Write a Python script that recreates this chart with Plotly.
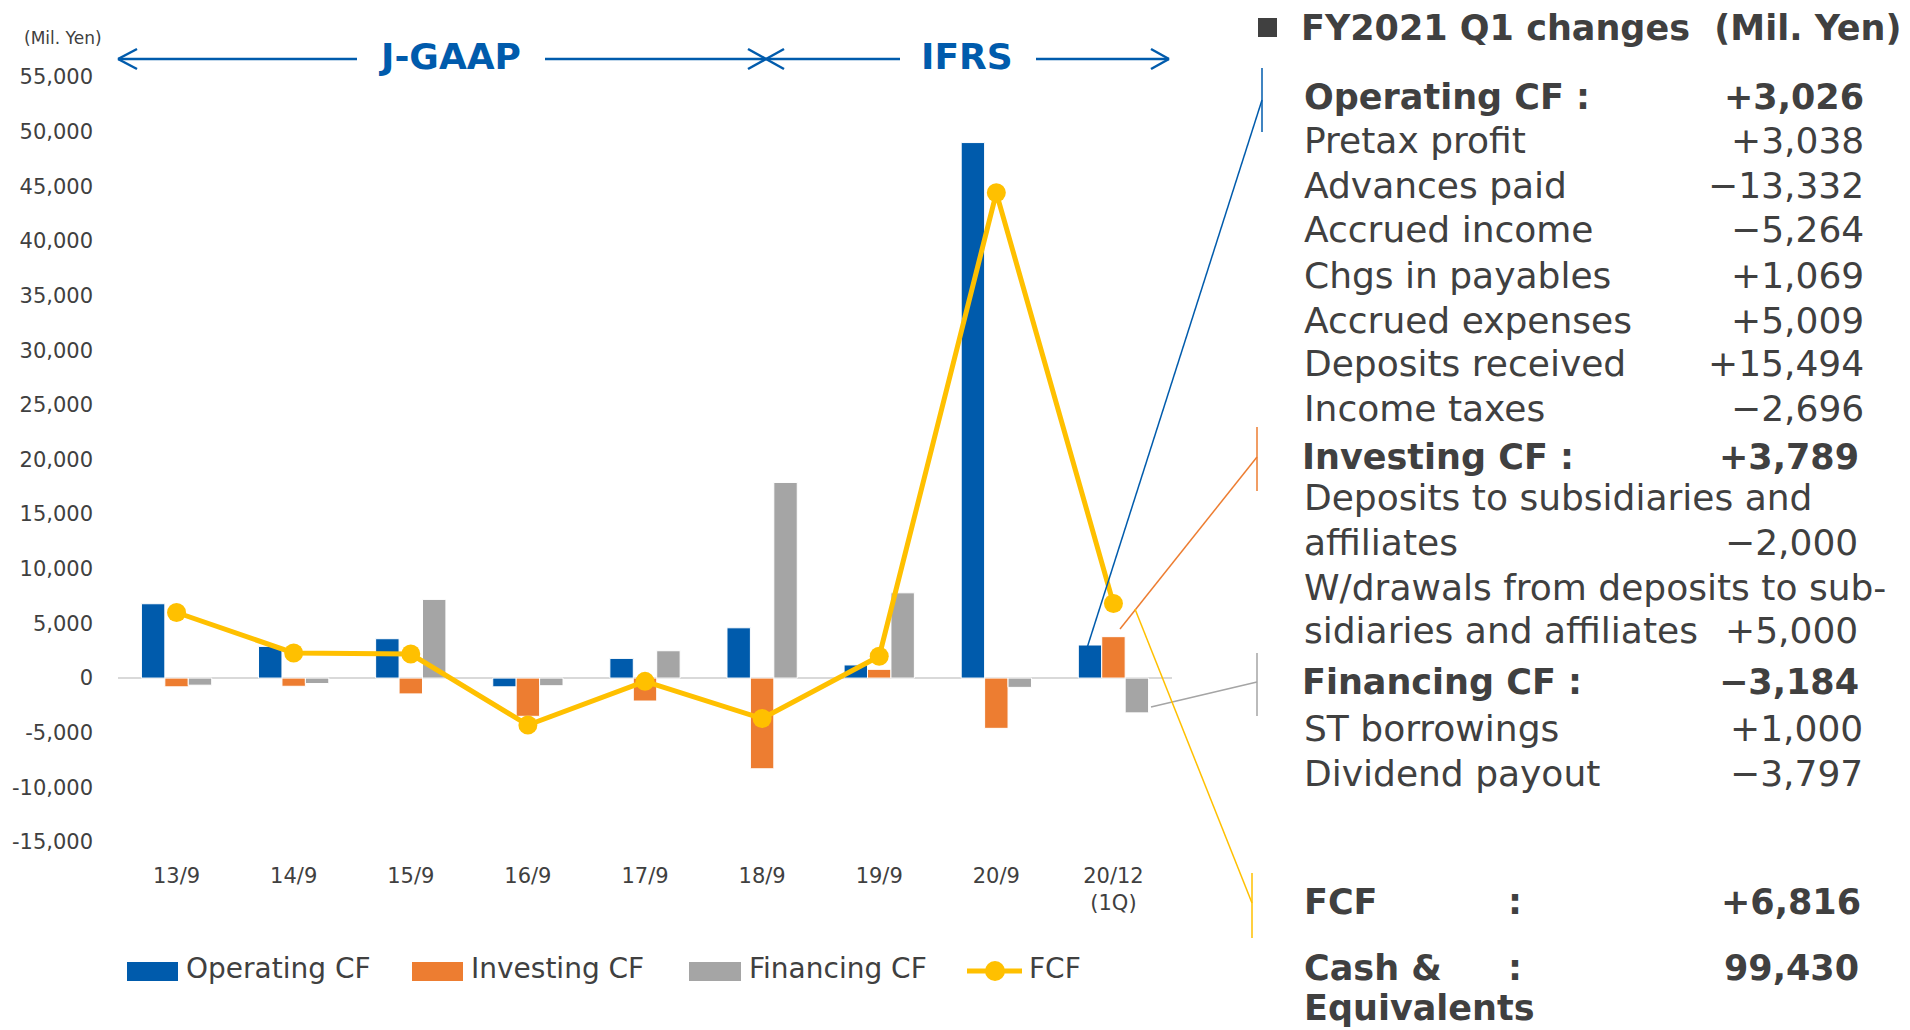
import plotly.graph_objects as go

# ---------------- data ----------------
categories = ["13/9", "14/9", "15/9", "16/9", "17/9", "18/9", "19/9", "20/9", "20/12<br>(1Q)"]
operating = [6800, 2900, 3600, -800, 1800, 4600, 1200, 49000, 3026]
investing = [-800, -750, -1450, -3500, -2100, -8300, 800, -4600, 3789]
financing = [-650, -500, 7200, -700, 2500, 17900, 7800, -850, -3184]
fcf = [6000, 2300, 2200, -4300, -300, -3700, 2000, 44400, 6816]

y_tickvals = [-15000, -10000, -5000, 0, 5000, 10000, 15000, 20000, 25000, 30000, 35000, 40000, 45000, 50000, 55000]
y_ticktext = ["-15,000", "-10,000", "-5,000", "0", "5,000", "10,000", "15,000", "20,000", "25,000",
              "30,000", "35,000", "40,000", "45,000", "50,000", "55,000"]

series_names = ["Operating CF", "Investing CF", "Financing CF", "FCF"]

panel_title = "FY2021 Q1 changes  (Mil. Yen)"
op_items = ["Pretax profit", "Advances paid", "Accrued income", "Chgs in payables",
            "Accrued expenses", "Deposits received", "Income taxes"]
op_values = ["+3,038", "−13,332", "−5,264", "+1,069", "+5,009", "+15,494", "−2,696"]
op_total = "+3,026"
inv_total = "+3,789"
inv_lines = ["Deposits to subsidiaries and", "affiliates", "W/drawals from deposits to sub-", "sidiaries and affiliates"]
inv_values = ["", "−2,000", "", "+5,000"]
fin_total = "−3,184"
fin_items = ["ST borrowings", "Dividend payout"]
fin_values = ["+1,000", "−3,797"]
fcf_total = "+6,816"
cash_total = "99,430"

# ---------------- style ----------------
BLUE = "#005BAC"
ORANGE = "#ED7D31"
GREY = "#A5A5A5"
YELLOW = "#FFC000"
TXT = "#404040"
FONT = "DejaVu Sans"

W, H = 1910, 1030
L, R, T, B = 118, 1172, 77, 842


def px(x):
    return (x - L) / (R - L)


def py(y):
    return (B - y) / (B - T)


fig = go.Figure()
fig.add_bar(x=categories, y=operating, name=series_names[0],
            marker=dict(color=BLUE, line=dict(color="white", width=1)))
fig.add_bar(x=categories, y=investing, name=series_names[1],
            marker=dict(color=ORANGE, line=dict(color="white", width=1)))
fig.add_bar(x=categories, y=financing, name=series_names[2],
            marker=dict(color=GREY, line=dict(color="white", width=1)))
fig.add_scatter(x=categories, y=fcf, name=series_names[3], mode="lines+markers",
                line=dict(color=YELLOW, width=5), marker=dict(size=19, color=YELLOW))

shapes = []
annots = []


def line(x0, y0, x1, y1, color, width):
    shapes.append(dict(type="line", xref="paper", yref="paper", x0=px(x0), y0=py(y0),
                       x1=px(x1), y1=py(y1), line=dict(color=color, width=width)))


def text(x, y, s, size, xanchor="left", color=TXT, bold=False):
    annots.append(dict(xref="paper", yref="paper", x=px(x), y=py(y), text=("<b>%s</b>" % s) if bold else s,
                       showarrow=False, xanchor=xanchor, yanchor="middle",
                       font=dict(family=FONT, size=size, color=color)))


# ---- J-GAAP / IFRS arrows ----
AY = 59
line(118, AY, 357, AY, BLUE, 2.5)
line(118, AY, 137, AY - 10, BLUE, 2.5)
line(118, AY, 137, AY + 10, BLUE, 2.5)
line(545, AY, 900, AY, BLUE, 2.5)
line(766, AY, 748, AY - 10, BLUE, 2.5)
line(766, AY, 748, AY + 10, BLUE, 2.5)
line(766, AY, 784, AY - 10, BLUE, 2.5)
line(766, AY, 784, AY + 10, BLUE, 2.5)
line(1036, AY, 1169, AY, BLUE, 2.5)
line(1169, AY, 1151, AY - 10, BLUE, 2.5)
line(1169, AY, 1151, AY + 10, BLUE, 2.5)
text(449, 56, "J-GAAP", 36, "center", BLUE, True)
text(967, 56, "IFRS", 36, "center", BLUE, True)
text(63, 38, "(Mil. Yen)", 17, "center")

# ---- leader lines ----
line(1087, 648, 1262, 100, BLUE, 1.5)
line(1262, 68, 1262, 132, BLUE, 1.5)
line(1120, 629, 1257, 457, ORANGE, 1.5)
line(1257, 427, 1257, 491, ORANGE, 1.5)
line(1151, 707, 1257, 682, GREY, 1.5)
line(1257, 653, 1257, 716, GREY, 1.5)
line(1135, 609, 1252, 903, YELLOW, 1.5)
line(1252, 873, 1252, 938, YELLOW, 1.5)

# ---- right panel ----
shapes.append(dict(type="rect", xref="paper", yref="paper", x0=px(1258), y0=py(18), x1=px(1277), y1=py(37),
                   fillcolor=TXT, line=dict(width=0)))
text(1299, 28, panel_title, 35, bold=True)

LX = 1302
VX = 1866
text(LX, 97, "Operating CF :", 35, bold=True)
text(VX, 97, op_total, 35, "right", bold=True)
op_y = [140, 185, 230, 275, 320, 363, 408]
for lab, val, yy in zip(op_items, op_values, op_y):
    text(LX, yy, lab, 36)
    text(VX, yy, val, 36, "right")

text(LX - 2, 457, "Investing CF :", 35, bold=True)
text(1861, 457, inv_total, 35, "right", bold=True)
inv_y = [497, 542, 587, 630]
for lab, val, yy in zip(inv_lines, inv_values, inv_y):
    text(LX, yy, lab, 36)
    if val:
        text(1860, yy, val, 36, "right")

text(LX - 2, 682, "Financing CF :", 35, bold=True)
text(1861, 682, fin_total, 35, "right", bold=True)
for lab, val, yy in zip(fin_items, fin_values, [728, 773]):
    text(LX, yy, lab, 36)
    text(1865, yy, val, 36, "right")

text(LX, 902, "FCF", 35, bold=True)
text(1515, 902, ":", 35, "center", bold=True)
text(1863, 902, fcf_total, 35, "right", bold=True)
text(LX, 968, "Cash &", 35, bold=True)
text(1515, 968, ":", 35, "center", bold=True)
text(1861, 968, cash_total, 35, "right", bold=True)
text(LX, 1008, "Equivalents", 35, bold=True)

# ---- custom legend ----
LEG_Y = 971
for (x0, x1, col, tx, name) in [(127, 178, BLUE, 184, series_names[0]),
                                (412, 463, ORANGE, 469, series_names[1]),
                                (689, 741, GREY, 747, series_names[2])]:
    shapes.append(dict(type="rect", xref="paper", yref="paper", x0=px(x0), x1=px(x1),
                       y0=py(LEG_Y + 10), y1=py(LEG_Y - 9), fillcolor=col, line=dict(width=0)))
    text(tx, 968, name, 28)
line(967, LEG_Y, 1022, LEG_Y, YELLOW, 5)
shapes.append(dict(type="circle", xref="paper", yref="paper", x0=px(985), x1=px(1005),
                   y0=py(LEG_Y + 10), y1=py(LEG_Y - 10), fillcolor=YELLOW, line=dict(width=0)))
text(1027, 968, series_names[3], 28)

fig.update_layout(
    width=W, height=H,
    margin=dict(l=L, r=W - R, t=T, b=H - B, autoexpand=False),
    paper_bgcolor="white", plot_bgcolor="white",
    barmode="group", bargap=0.4, bargroupgap=0,
    showlegend=False,
    font=dict(family=FONT, color=TXT),
    shapes=shapes, annotations=annots,
    xaxis=dict(range=[-0.5, 8.5], showgrid=False, showline=False, zeroline=False, ticks="",
               tickfont=dict(size=21, color=TXT, family=FONT), ticklabelstandoff=19, automargin=False),
    yaxis=dict(range=[-15000, 55000], tickvals=y_tickvals, ticktext=y_ticktext,
               showgrid=False, showline=False, zeroline=True, zerolinecolor="#D9D9D9", zerolinewidth=2,
               ticks="", tickfont=dict(size=21, color=TXT, family=FONT), ticklabelstandoff=24,
               automargin=False),
)

fig.write_html("out.html", config={"displayModeBar": False},
               post_script="document.body.style.margin='0';document.body.style.overflow='hidden';")
